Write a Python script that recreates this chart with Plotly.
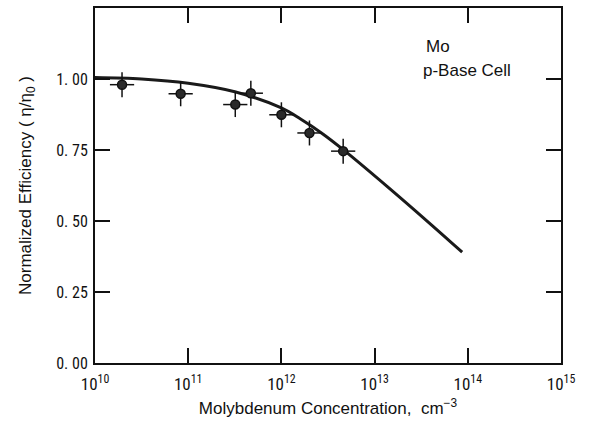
import plotly.graph_objects as go

# Measured points
conc = [1.95e10, 8.3e10, 3.2e11, 4.7e11, 1.0e12, 2.0e12, 4.6e12]
eff = [0.98, 0.948, 0.91, 0.95, 0.874, 0.81, 0.746]
x_err_decades = 0.13
y_err = 0.044

# Fitted curve
curve_conc = [1e10, 3.16e10, 1e11, 3.16e11, 1e12, 1.62e12, 2.69e12, 4.57e12, 1.38e13, 3.98e13, 8.7e13]
curve_eff = [1.005, 1.0, 0.985, 0.955, 0.898, 0.858, 0.81, 0.752, 0.62, 0.489, 0.39]

x_tickvals = [1e10, 1e11, 1e12, 1e13, 1e14, 1e15]
x_ticktext = ["10<sup>10</sup>", "10<sup>11</sup>", "10<sup>12</sup>", "10<sup>13</sup>", "10<sup>14</sup>", "10<sup>15</sup>"]
y_tickvals = [0.0, 0.25, 0.5, 0.75, 1.0]
y_ticktext = ["0. 00", "0. 25", "0. 50", "0. 75", "1. 00"]

FONT = "Liberation Sans Narrow, Roboto Condensed, DejaVu Sans Condensed, Liberation Sans, Arial"
WIDE = "Liberation Sans, Arial"

up = 10 ** x_err_decades
fig = go.Figure()
fig.add_trace(go.Scatter(
    x=curve_conc, y=curve_eff, mode="lines",
    line=dict(color="#1a1a1a", width=3, shape="spline"),
    hoverinfo="skip", showlegend=False))
fig.add_trace(go.Scatter(
    x=conc, y=eff, mode="markers",
    marker=dict(size=9, color="#2a2a2a", line=dict(color="#111111", width=1.5)),
    error_x=dict(type="data", symmetric=False,
                 array=[c * (up - 1) for c in conc],
                 arrayminus=[c * (1 - 1 / up) for c in conc],
                 color="#111111", thickness=1.5, width=0),
    error_y=dict(type="constant", value=y_err, color="#111111", thickness=1.5, width=0),
    showlegend=False))

fig.add_annotation(x=0.707, y=1.115, xref="paper", yref="y", text="Mo",
                   showarrow=False, xanchor="left", yanchor="middle",
                   font=dict(family=WIDE, size=17, color="#111"))
fig.add_annotation(x=0.70, y=1.03, xref="paper", yref="y", text="p-Base Cell",
                   showarrow=False, xanchor="left", yanchor="middle",
                   font=dict(family=WIDE, size=17, color="#111"))

fig.update_layout(
    width=590, height=439,
    margin=dict(l=95, r=29, t=6, b=76),
    paper_bgcolor="white", plot_bgcolor="white",
    font=dict(family=FONT, size=15, color="#111"),
    xaxis=dict(type="log", range=[10, 15], tickvals=x_tickvals, ticktext=x_ticktext,
               ticks="inside", ticklen=15, tickwidth=1.5, tickcolor="#111",
               showline=True, linecolor="#111", linewidth=2, mirror="ticks",
               showgrid=False, zeroline=False, ticklabelstandoff=5,
               title=dict(text="Molybdenum Concentration,  cm<sup>−3</sup>", standoff=9,
                          font=dict(family=WIDE, size=17)),
               tickfont=dict(size=17)),
    yaxis=dict(range=[0, 1.25], tickvals=y_tickvals, ticktext=y_ticktext,
               ticks="inside", ticklen=15, tickwidth=1.5, tickcolor="#111",
               showline=True, linecolor="#111", linewidth=2, mirror="ticks",
               showgrid=False, zeroline=False, ticklabelstandoff=2,
               title=dict(text="Normalized Efficiency ( η/η<sub>0</sub> )", standoff=20,
                          font=dict(family=WIDE, size=17)),
               tickfont=dict(size=16)),
)
fig.write_html("out.html")
